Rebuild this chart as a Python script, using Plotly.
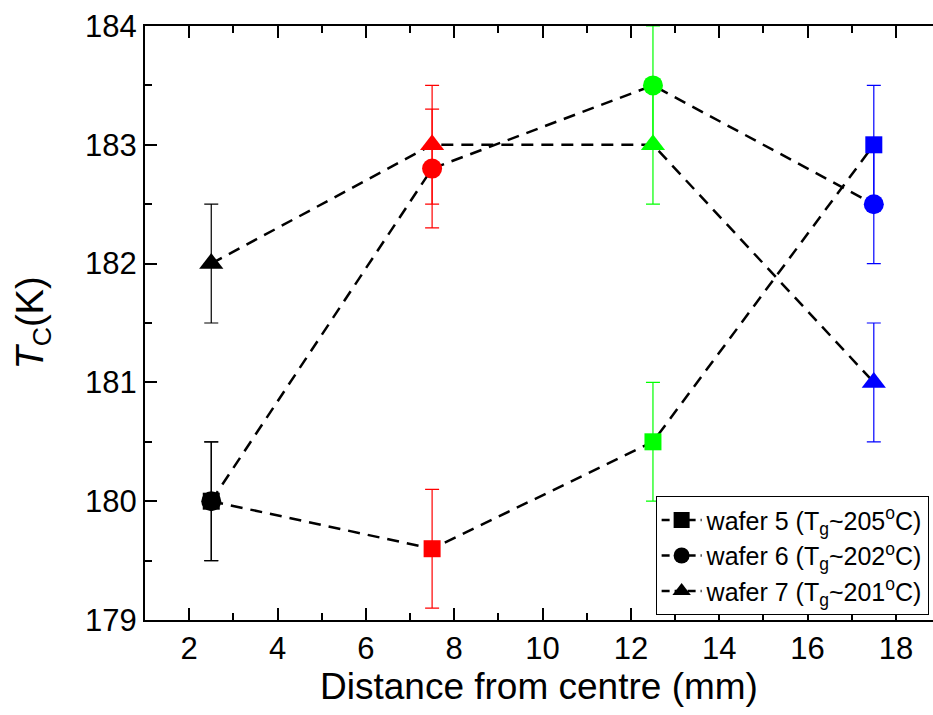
import plotly.graph_objects as go

distance = [2.5, 7.5, 12.5, 17.5]
point_colors = ["#000000", "#FF0000", "#00FF00", "#0000FF"]

wafer5 = [180.0, 179.6, 180.5, 183.0]
wafer6 = [180.0, 182.8, 183.5, 182.5]
wafer7 = [182.0, 183.0, 183.0, 181.0]
err5 = [0.5, 0.5, 0.5, 0.5]
err6 = [0.5, 0.5, 0.5, 0.5]
err7 = [0.5, 0.5, 0.5, 0.5]

names = ["wafer 5 (T<sub>g</sub>~205<sup>o</sup>C)",
         "wafer 6 (T<sub>g</sub>~202<sup>o</sup>C)",
         "wafer 7 (T<sub>g</sub>~201<sup>o</sup>C)"]
symbols = ["square", "circle", "triangle-up"]
sizes = [17, 20, 21]

FONT = "Liberation Sans, Arial"

fig = go.Figure()
series = [(wafer5, err5), (wafer6, err6), (wafer7, err7)]

# dashed connecting lines
for (vals, errs) in series:
    fig.add_trace(go.Scatter(x=distance, y=vals, mode="lines",
                             line=dict(color="black", width=2.5, dash="12px,8px"),
                             showlegend=False, hoverinfo="skip"))

# coloured markers with error bars
for k, (vals, errs) in enumerate(series):
    for i in range(len(distance)):
        fig.add_trace(go.Scatter(
            x=[distance[i]], y=[vals[i]], mode="markers",
            marker=dict(symbol=symbols[k], size=sizes[k], color=point_colors[i],
                        line=dict(width=0)),
            error_y=dict(type="data", array=[errs[i]], visible=True,
                         color=point_colors[i], thickness=1.2, width=7),
            showlegend=False))

# legend entries
for k in range(3):
    fig.add_trace(go.Scatter(
        x=[None], y=[None], mode="lines+markers", name=names[k],
        line=dict(color="black", width=2.5, dash="8px,5px"),
        marker=dict(symbol=symbols[k], size=sizes[k], color="black")))

axis_common = dict(showline=True, linecolor="black", linewidth=2,
                   ticks="inside", tickcolor="black", tickwidth=2,
                   showgrid=False, zeroline=False,
                   tickfont=dict(family=FONT, size=31, color="black"))

fig.update_layout(
    width=933, height=715,
    margin=dict(l=145, r=0, t=26, b=95),
    paper_bgcolor="white", plot_bgcolor="white",
    font=dict(family=FONT, color="black"),
    xaxis=dict(range=[1.0, 18.84], tickvals=[2, 4, 6, 8, 10, 12, 14, 16, 18],
               ticklen=12, mirror="ticks",
               minor=dict(tickvals=[3, 5, 7, 9, 11, 13, 15, 17], ticks="inside",
                          ticklen=7, tickwidth=2, tickcolor="black"),
               title=dict(text="Distance from centre (mm)",
                          font=dict(family=FONT, size=37, color="black"),
                          standoff=4),
               **axis_common),
    yaxis=dict(range=[179, 184], tickvals=[179, 180, 181, 182, 183, 184],
               ticklen=12, mirror=False,
               minor=dict(tickvals=[179.5, 180.5, 181.5, 182.5, 183.5], ticks="inside",
                          ticklen=7, tickwidth=2, tickcolor="black"),
               title=dict(text="<i>T</i><sub>C</sub>(K)",
                          font=dict(family=FONT, size=38, color="black"),
                          standoff=30),
               **axis_common),
    legend=dict(x=0.648, y=0.008, xanchor="left", yanchor="bottom",
                bgcolor="white", bordercolor="black", borderwidth=1,
                font=dict(family=FONT, size=25, color="black"),
                itemwidth=40, tracegroupgap=0),
    showlegend=True,
)

fig.write_html("out.html")
